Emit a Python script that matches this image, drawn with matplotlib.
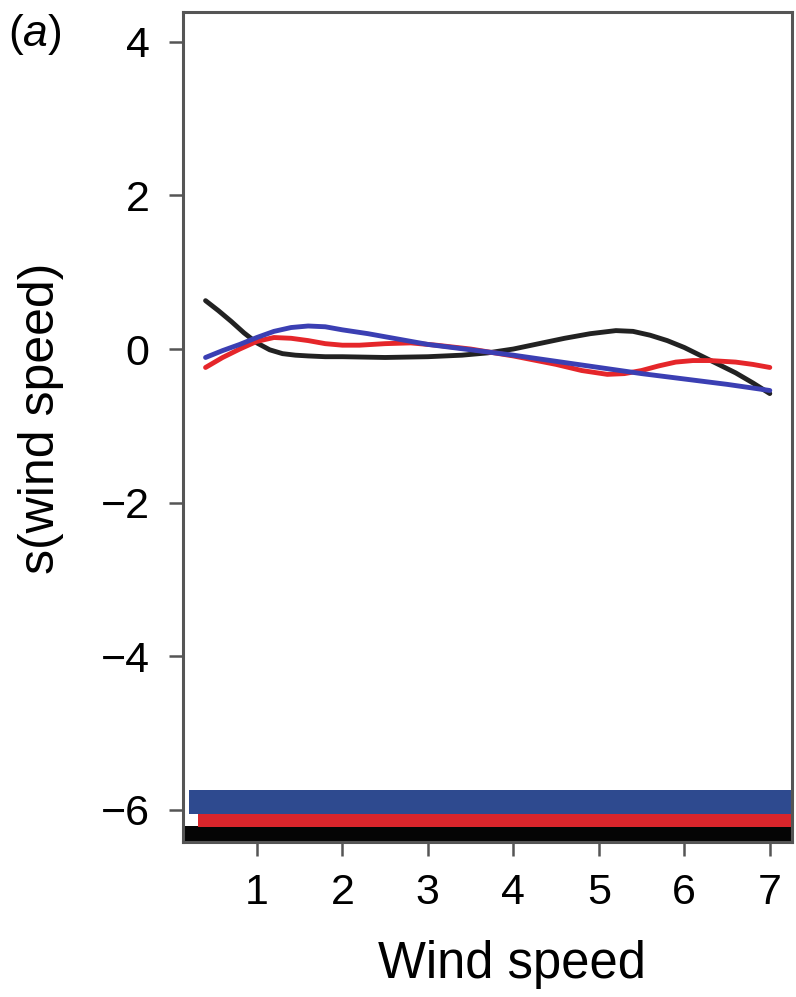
import matplotlib
matplotlib.use('Agg')
import matplotlib.pyplot as plt

plt.rcParams['font.family'] = ['Liberation Sans', 'DejaVu Sans']
plt.rcParams['mathtext.fontset'] = 'custom'
plt.rcParams['mathtext.rm'] = 'Liberation Sans'
plt.rcParams['mathtext.it'] = 'Liberation Sans:italic'

# smooth terms
x_black = [0.4, 0.55, 0.7, 0.85, 1.0, 1.15, 1.3, 1.45, 1.6, 1.8, 2.0, 2.5, 3.0, 3.4, 3.7, 4.0,
           4.3, 4.6, 4.9, 5.2, 5.4, 5.6, 5.8, 6.0, 6.2, 6.4, 6.6, 6.8, 7.0]
s_black = [0.63, 0.50, 0.36, 0.21, 0.08, -0.01, -0.06, -0.08, -0.09, -0.10, -0.10, -0.11, -0.10,
           -0.08, -0.05, 0.00, 0.07, 0.14, 0.20, 0.24, 0.23, 0.18, 0.11, 0.02, -0.09, -0.20,
           -0.31, -0.44, -0.58]

x_blue = [0.4, 0.6, 0.8, 1.0, 1.2, 1.4, 1.6, 1.8, 2.0, 2.3, 2.6, 3.0, 3.5, 4.0, 4.5, 5.0,
          5.5, 6.0, 6.5, 7.0]
s_blue = [-0.11, -0.02, 0.06, 0.15, 0.23, 0.28, 0.30, 0.29, 0.25, 0.20, 0.14, 0.06, -0.01,
          -0.08, -0.16, -0.24, -0.32, -0.39, -0.46, -0.54]

x_red = [0.4, 0.6, 0.8, 1.0, 1.2, 1.4, 1.6, 1.8, 2.0, 2.2, 2.5, 2.8, 3.1, 3.5, 4.0, 4.5,
         4.8, 5.1, 5.3, 5.5, 5.7, 5.9, 6.1, 6.3, 6.6, 6.8, 7.0]
s_red = [-0.24, -0.11, 0.00, 0.10, 0.15, 0.14, 0.11, 0.07, 0.05, 0.05, 0.07, 0.08, 0.05, 0.00,
         -0.09, -0.20, -0.28, -0.33, -0.32, -0.28, -0.22, -0.17, -0.15, -0.15, -0.17, -0.20, -0.24]

# rug of observed wind speeds (drawn as dense bands): start / end of each
rug_names = ['black', 'red', 'blue']
rug_start = [0.14, 0.31, 0.21]
rug_end = [7.26, 7.26, 7.26]

fig = plt.figure(figsize=(7.96, 9.97), dpi=100)
ax = fig.add_axes([0.230, 0.1555, 0.765, 0.8325])

ax.plot(x_black, s_black, color='#222222', lw=3.5, solid_capstyle='round', solid_joinstyle='round', zorder=3)
ax.plot(x_red, s_red, color='#e5262a', lw=3.5, solid_capstyle='round', solid_joinstyle='round', zorder=4)
ax.plot(x_blue, s_blue, color='#3b3fb3', lw=3.5, solid_capstyle='round', solid_joinstyle='round', zorder=5)

band_y = {'black': (-6.42, -6.21), 'red': (-6.22, -6.05), 'blue': (-6.05, -5.74)}
band_c = {'black': '#050505', 'red': '#d9252b', 'blue': '#2e4a8f'}
for name, x0, x1 in zip(rug_names, rug_start, rug_end):
    y0, y1 = band_y[name]
    ax.fill_between([x0, x1], y0, y1, color=band_c[name], lw=0, zorder=2)

ax.set_xlim(0.137, 7.26)
ax.set_ylim(-6.42, 4.39)
ax.set_xticks([1, 2, 3, 4, 5, 6, 7])
ax.set_yticks([-6, -4, -2, 0, 2, 4])

for sp in ax.spines.values():
    sp.set_color('#555555')
    sp.set_linewidth(2.2)
ax.tick_params(axis='both', direction='out', length=10, width=1.8, color='#555555',
               labelsize=31, labelcolor='black')
ax.tick_params(axis='y', pad=14)
ax.tick_params(axis='x', pad=12)

ax.set_xlabel('Wind speed', fontsize=36.5)
ax.set_ylabel('s(wind speed)', fontsize=36)
ax.xaxis.set_label_coords(0.54, -0.118)
ax.yaxis.set_label_coords(-0.196, 0.51)

fig.text(0.01, 0.965, r'($\mathit{a}$)', fontsize=32, ha='left', va='center')

fig.savefig('out.png', dpi=100)
